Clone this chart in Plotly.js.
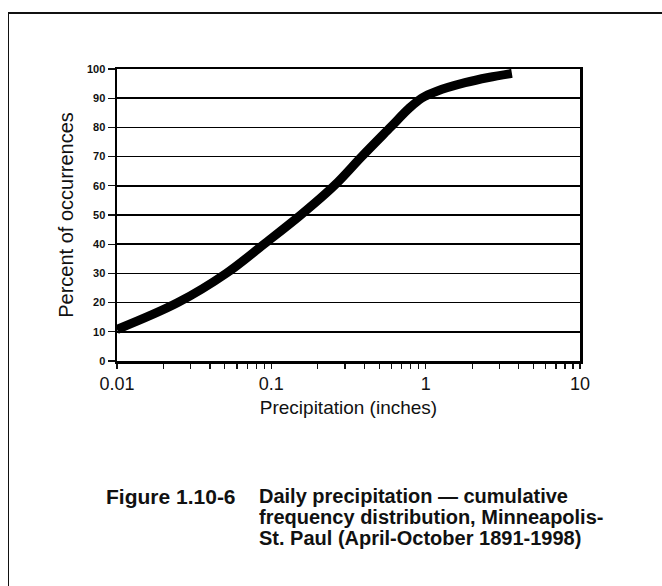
<!DOCTYPE html>
<html>
<head>
<meta charset="utf-8">
<script src="https://cdn.plot.ly/plotly-3.0.1.min.js"></script>
<style>
  html, body { margin: 0; padding: 0; background: #fff; }
  #wrap { position: relative; width: 662px; height: 586px; overflow: hidden; }
  #frame { position: absolute; left: 8px; top: 12px; width: 700px; height: 600px;
           border-left: 1.5px solid #111; border-top: 2px solid #111; pointer-events: none; }
  #chart { position: absolute; left: 0; top: 0; width: 662px; height: 586px; }
</style>
</head>
<body>
<div id="wrap">
  <div id="chart"></div>
  <div id="frame"></div>
</div>
<script>
// Precipitation (inches) and cumulative percent of occurrences
const precipInches = [0.01, 0.0248, 0.051, 0.0895, 0.155, 0.255, 0.385, 0.59, 0.78, 0.94, 1.18, 1.80, 2.55, 3.62];
const percentOccur = [10.8, 20, 30, 40, 50, 60, 70, 80, 86.5, 90, 92.4, 95.3, 97.1, 98.5];

const yTickVals = [0, 10, 20, 30, 40, 50, 60, 70, 80, 90, 100];
const decades = [0.01, 0.1, 1, 10];
const decadeLabels = ['0.01', '0.1', '1', '10'];

const captionLabel = 'Figure 1.10-6';
const captionLines = [
  'Daily precipitation \u2014 cumulative',
  'frequency distribution, Minneapolis-',
  'St. Paul (April-October 1891-1998)'
];

// build log ticks (major decades labelled, minor 2..9 unlabelled)
const xTickVals = [];
const xTickText = [];
decades.forEach((d, i) => {
  xTickVals.push(d); xTickText.push(decadeLabels[i]);
  if (i < decades.length - 1) {
    for (let k = 2; k <= 9; k++) { xTickVals.push(+(d * k).toPrecision(3)); xTickText.push(''); }
  }
});

const FONT = 'Liberation Sans, Arial, sans-serif';
const L = 117, T = 69, W = 463, H = 292;

const annotations = [];
annotations.push({
  xref: 'paper', yref: 'paper', x: 0, y: 0, xanchor: 'left', yanchor: 'middle',
  xshift: 104 - L, yshift: (T + H) - 496, showarrow: false, text: '<b>' + captionLabel + '</b>',
  font: { family: FONT, size: 21, color: '#111' }
});
const lineY = [496, 517, 538];
captionLines.forEach((t, i) => {
  annotations.push({
    xref: 'paper', yref: 'paper', x: 0, y: 0, xanchor: 'left', yanchor: 'middle',
    xshift: 257 - L, yshift: (T + H) - lineY[i], showarrow: false, text: '<b>' + t + '</b>',
    font: { family: FONT, size: 20, color: '#111' }
  });
});

const trace = {
  x: precipInches, y: percentOccur, type: 'scatter', mode: 'lines',
  line: { color: '#000', width: 9, shape: 'spline', smoothing: 1.0 },
  hoverinfo: 'skip'
};

const layout = {
  width: 662, height: 586,
  margin: { l: L, r: 662 - L - W, t: T, b: 586 - T - H, pad: 0 },
  paper_bgcolor: '#fff', plot_bgcolor: '#fff',
  showlegend: false,
  xaxis: {
    type: 'log', range: [-2, 1], tickmode: 'array', tickvals: xTickVals, ticktext: xTickText,
    ticks: 'outside', ticklen: 5, tickwidth: 1.2, tickcolor: '#111',
    showline: true, linewidth: 2.5, linecolor: '#000', mirror: true,
    showgrid: false, zeroline: false,
    tickfont: { family: FONT, size: 18, color: '#111' },
    title: { text: 'Precipitation (inches)', font: { family: FONT, size: 19, color: '#111' }, standoff: 8 }
  },
  yaxis: {
    range: [0, 100], tickmode: 'array', tickvals: yTickVals,
    ticks: 'outside', ticklen: 7, tickwidth: 1.2, tickcolor: '#111',
    showline: true, linewidth: 2.5, linecolor: '#000', mirror: true,
    showgrid: true, gridcolor: '#000', gridwidth: 1.6, zeroline: false,
    tickfont: { family: FONT, size: 11, color: '#111', weight: 'bold' },
    title: { text: 'Percent of occurrences', font: { family: FONT, size: 20, color: '#111' }, standoff: 8 }
  },
  annotations: annotations
};

Plotly.newPlot('chart', [trace], layout, { staticPlot: true, displayModeBar: false });
</script>
</body>
</html>
